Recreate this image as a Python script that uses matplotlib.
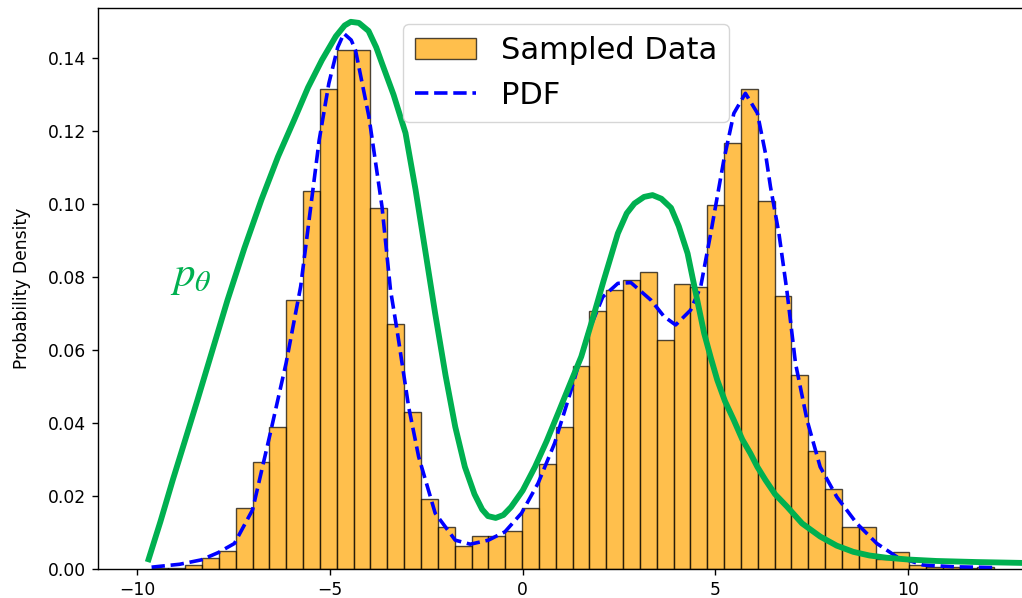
import matplotlib
matplotlib.use("Agg")
import matplotlib.pyplot as plt
import numpy as np

plt.rcParams['mathtext.fontset'] = 'stix'

#############################################################
## Dados do histograma
#############################################################
data_min = -9.63   # borda esquerda do primeiro bin
data_max = 12.22   # borda direita do último bin
n_bins = 50

densidade = [0.0003, 0.0004, 0.0011, 0.0029, 0.0049, 0.0168, 0.0294, 0.0389, 0.0737, 0.1036,
             0.1317, 0.1423, 0.1423, 0.0989, 0.0671, 0.0430, 0.0192, 0.0115, 0.0062, 0.0091,
             0.0091, 0.0104, 0.0167, 0.0287, 0.0389, 0.0556, 0.0707, 0.0765, 0.0792, 0.0815,
             0.0628, 0.0780, 0.0774, 0.0998, 0.1168, 0.1317, 0.1010, 0.0747, 0.0533, 0.0323,
             0.0218, 0.0115, 0.0115, 0.0027, 0.0046, 0.0011, 0.0005, 0.0005, 0.0003, 0.0005]

# PDF (linha azul tracejada)
pdf_x = [-9.63, -8.9, -8.34, -7.9, -7.48, -7.01, -6.53, -6.14, -5.76, -5.28,
         -5.03, -4.80, -4.64, -4.45, -4.34, -3.99, -3.65, -3.43, -3.26, -2.96,
         -2.70, -2.27, -1.75, -1.36, -0.89, -0.46, -0.03, 0.40, 0.83, 1.26,
         1.69, 2.08, 2.47, 2.81, 3.33, 3.67, 3.97, 4.36, 4.62, 4.88,
         5.22, 5.48, 5.78, 6.09, 6.30, 6.43, 6.65, 6.86, 7.08, 7.38,
         7.72, 8.15, 8.67, 9.19, 9.70, 10.39, 11.2, 12.22]
pdf_y = [0.0005, 0.0013, 0.0025, 0.0045, 0.0070, 0.0162, 0.0381, 0.0564, 0.0775, 0.1176,
         0.1331, 0.1430, 0.1468, 0.1450, 0.1423, 0.1240, 0.0993, 0.0765, 0.0655, 0.0445,
         0.0308, 0.0153, 0.0079, 0.0068, 0.0079, 0.0102, 0.0153, 0.0235, 0.0345, 0.0491,
         0.0646, 0.0746, 0.0783, 0.0785, 0.0737, 0.0692, 0.0669, 0.0710, 0.0774, 0.0920,
         0.1121, 0.1249, 0.1304, 0.1250, 0.1140, 0.1048, 0.0920, 0.0760, 0.0564, 0.0408,
         0.0280, 0.0198, 0.0125, 0.0070, 0.0034, 0.0011, 0.0006, 0.0004]

# Curva p_theta (linha verde)
p_theta_x = [-9.73, -9.40, -9.08, -8.76, -8.44, -8.05, -7.66, -7.22, -6.78, -6.35,
             -5.93, -5.57, -5.21, -4.85, -4.62, -4.46, -4.25, -4.00, -3.80, -3.65,
             -3.35, -3.04, -2.78, -2.53, -2.27, -2.00, -1.75, -1.50, -1.25, -1.05,
             -0.90, -0.70, -0.50, -0.30, 0.00, 0.32, 0.62, 0.92, 1.22, 1.52,
             1.80, 2.10, 2.47, 2.70, 2.90, 3.15, 3.37, 3.60, 3.85, 4.05,
             4.28, 4.53, 4.71, 4.88, 5.05, 5.25, 5.48, 5.70, 5.91, 6.09,
             6.30, 6.55, 6.86, 7.25, 7.72, 8.15, 8.58, 9.00, 9.44, 10.00,
             10.74, 11.80, 13.30]
p_theta_y = [0.0019, 0.0130, 0.0244, 0.0353, 0.0463, 0.0600, 0.0737, 0.0880, 0.1012, 0.1130,
             0.1231, 0.1320, 0.1395, 0.1460, 0.1490, 0.1500, 0.1497, 0.1475, 0.1430, 0.1386,
             0.1300, 0.1195, 0.1040, 0.0874, 0.0700, 0.0530, 0.0390, 0.0280, 0.0205, 0.0163,
             0.0145, 0.0140, 0.0148, 0.0170, 0.0215, 0.0280, 0.0350, 0.0427, 0.0505, 0.0582,
             0.0680, 0.0790, 0.0920, 0.0975, 0.1002, 0.1020, 0.1025, 0.1015, 0.0990, 0.0940,
             0.0865, 0.0737, 0.0646, 0.0580, 0.0518, 0.0460, 0.0408, 0.0355, 0.0317, 0.0280,
             0.0244, 0.0205, 0.0171, 0.0125, 0.0089, 0.0064, 0.0047, 0.0037, 0.0031, 0.0026,
             0.0022, 0.0019, 0.0016]

#############################################################
## Gráfico
#############################################################
bordas = np.linspace(data_min, data_max, n_bins + 1)

fig = plt.figure(figsize=(10.22, 5.98), dpi=100)
ax = fig.add_axes([0.0959, 0.0485, 0.917, 0.9376])

barras = ax.bar(bordas[:-1], densidade, width=np.diff(bordas), align='edge', color='orange',
                alpha=0.7, edgecolor='black', linewidth=1.0, label='Sampled Data')
linha_pdf, = ax.plot(pdf_x, pdf_y, 'b--', linewidth=2.6, label='PDF')
ax.plot(p_theta_x, p_theta_y, color='#00B050', linewidth=4.2, solid_capstyle='butt',
        solid_joinstyle='round')

ax.text(-9.16, 0.0776, r'$p_\theta$', color='#00B050', fontsize=31, ha='left', va='baseline')

ax.set_xlim(-11.02, 13.3)
ax.set_ylim(0, 0.1537)
ax.set_xticks([-10, -5, 0, 5, 10])
ax.set_yticks(np.arange(0, 0.141, 0.02))
ax.set_yticklabels([f'{v:.2f}' for v in np.arange(0, 0.141, 0.02)])
ax.tick_params(labelsize=12.3, length=4.3, width=1.0, pad=4.3)
ax.set_ylabel('Probability Density', fontsize=12.3, labelpad=12)
for s in ax.spines.values():
    s.set_linewidth(1.0)

ax.legend([barras, linha_pdf], ['Sampled Data', 'PDF'], loc='upper left',
          bbox_to_anchor=(0.3255, 0.972), borderaxespad=0, fontsize=22)

fig.savefig('out.png', dpi=100)
